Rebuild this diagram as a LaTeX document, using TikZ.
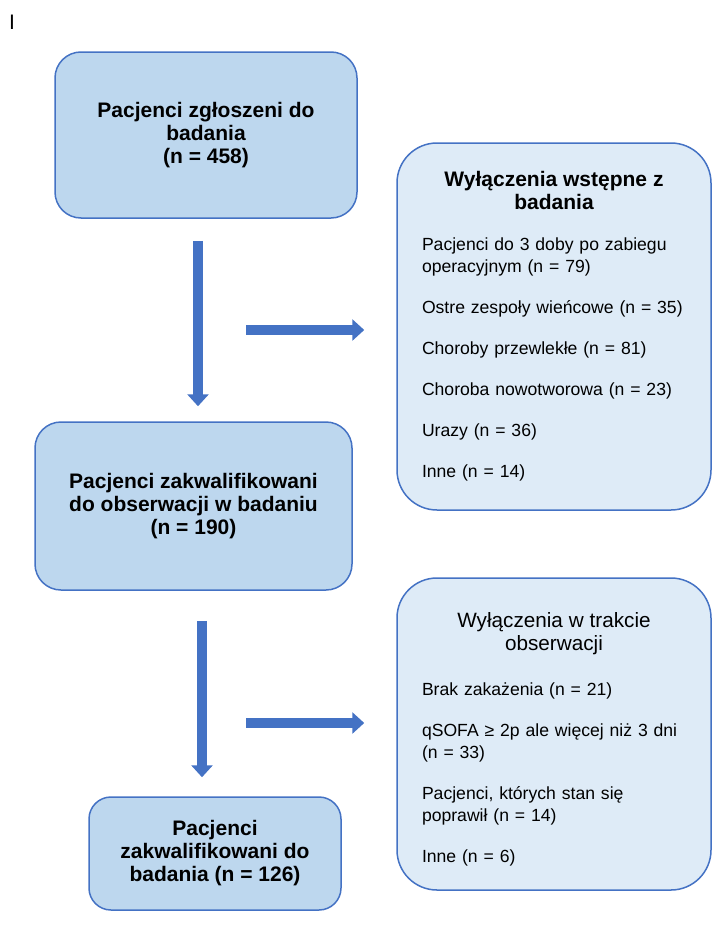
\documentclass[tikz,border=0pt]{standalone}
\usepackage{fontspec}
\setmainfont{Liberation Sans}
\usetikzlibrary{arrows.meta}
\definecolor{boxfill}{HTML}{BDD7EE}
\definecolor{exclfill}{HTML}{DEEBF7}
\definecolor{boxline}{HTML}{4472C4}
\newcommand{\itemgap}{\par\vspace{19pt}}

\begin{document}
\begin{tikzpicture}[x=1pt,y=-1pt,
    mainbox/.style={draw=boxline,line width=1.5pt,fill=boxfill,rounded corners=26pt,
        align=center,inner sep=0pt,font=\fontsize{21}{23}\selectfont\bfseries},
    exclbox/.style={draw=boxline,line width=1.5pt,fill=exclfill,rounded corners=40pt,
        text width=264pt,align=left,inner xsep=25pt,inner ysep=0pt,minimum width=314pt,
        font=\fontsize{17.6}{22}\selectfont},
    flow/.style={draw=boxline,line width=10pt,-{Triangle[width=21pt,length=12pt]}}]
    \useasboundingbox (0,0) rectangle (715,945);

    \node[font=\fontsize{21}{24}\selectfont] (mark) at (12,22) {I};

    \node[mainbox,minimum width=302pt,minimum height=166pt] (reported) at (206,135)
        {Pacjenci zgłoszeni do\\badania\\(n = 458)};
    \node[mainbox,minimum width=317pt,minimum height=168pt] (observed) at (193.5,506)
        {Pacjenci zakwalifikowani\\do obserwacji w badaniu\\(n = 190)};
    \node[mainbox,minimum width=252pt,minimum height=113pt,rounded corners=22pt] (included) at (215,853.5)
        {Pacjenci\\zakwalifikowani do\\badania (n = 126)};

    \node[exclbox,minimum height=367pt] (initexcl) at (554,326.5)
        {{\centering\fontsize{21}{23}\selectfont\bfseries Wyłączenia wstępne z\\badania\par}
        \vspace{19pt}
        Pacjenci do 3 doby po zabiegu\\operacyjnym (n = 79)\itemgap
        Ostre zespoły wieńcowe (n = 35)\itemgap
        Choroby przewlekłe (n = 81)\itemgap
        Choroba nowotworowa (n = 23)\itemgap
        Urazy (n = 36)\itemgap
        Inne (n = 14)};
    \node[exclbox,minimum height=312pt] (obsexcl) at (554,734)
        {{\centering\fontsize{20.7}{23}\selectfont\rule{0pt}{25pt}Wyłączenia w trakcie\\obserwacji\par}
        \vspace{23pt}
        Brak zakażenia (n = 21)\itemgap
        qSOFA ≥ 2p ale więcej niż 3 dni\\(n = 33)\itemgap
        Pacjenci, których stan się\\poprawił (n = 14)\itemgap
        Inne (n = 6)};

    \coordinate (down1) at (198,0);
    \coordinate (down2) at (202,0);
    \coordinate (side1) at (246,330);
    \coordinate (side2) at (246,723);

    \draw[flow,shorten <=22pt,shorten >=15pt] (reported.south -| down1) -- (observed.north -| down1);
    \draw[flow,shorten <=30pt,shorten >=19pt] (observed.south -| down2) -- (included.north -| down2);
    \draw[flow,shorten >=32pt] (side1) -- (side1 -| initexcl.west);
    \draw[flow,shorten >=32pt] (side2) -- (side2 -| obsexcl.west);
\end{tikzpicture}
\end{document}
